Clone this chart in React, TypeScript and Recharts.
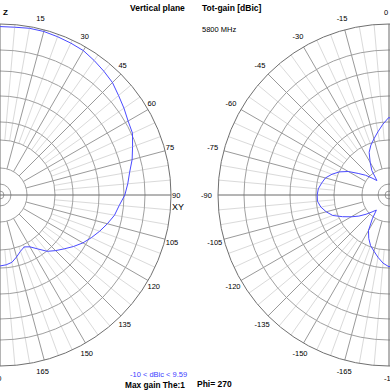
import { RadarChart, Radar, PolarGrid, PolarAngleAxis, PolarRadiusAxis } from 'recharts'

const SIZE = 390
const R = 171
const CY = 195

// theta in degrees, clockwise from zenith (Z), 5 degree steps
const angles = Array.from({ length: 72 }, (_, i) => i * 5)

// relative gain radius (1 = outer ring)
const leftLevel = [
  0.985, 0.985, 0.99, 0.99, 0.985, 0.98, 0.975, 0.96, 0.945, 0.93, 0.905, 0.885,
  0.865, 0.855, 0.825, 0.8, 0.77, 0.75, 0.73, 0.7, 0.68, 0.65, 0.62, 0.59,
  0.56, 0.525, 0.49, 0.46, 0.43, 0.385, 0.35, 0.335, 0.35, 0.375, 0.4, 0.41,
  0.415, 0.41, 0.4, 0.375, 0.35, 0.335, 0.35, 0.385, 0.43, 0.46, 0.49, 0.525,
  0.56, 0.59, 0.62, 0.65, 0.68, 0.7, 0.73, 0.75, 0.77, 0.8, 0.825, 0.855,
  0.865, 0.885, 0.905, 0.93, 0.945, 0.96, 0.975, 0.98, 0.985, 0.99, 0.99, 0.985,
]

const rightLevel = [
  0.455, 0.415, 0.375, 0.34, 0.31, 0.275, 0.22, 0.175, 0.11, 0.14, 0.18, 0.22,
  0.275, 0.32, 0.355, 0.385, 0.4, 0.415, 0.42, 0.42, 0.405, 0.38, 0.35, 0.3,
  0.255, 0.215, 0.175, 0.14, 0.115, 0.17, 0.24, 0.28, 0.315, 0.34, 0.37, 0.4,
  0.42, 0.4, 0.37, 0.34, 0.315, 0.28, 0.24, 0.17, 0.115, 0.14, 0.175, 0.215,
  0.255, 0.3, 0.35, 0.38, 0.405, 0.42, 0.42, 0.415, 0.4, 0.385, 0.355, 0.32,
  0.275, 0.22, 0.18, 0.14, 0.11, 0.175, 0.22, 0.275, 0.31, 0.34, 0.375, 0.415,
]

// grid rings as fraction of outer radius
const ringLevels = [0.023, 0.064, 0.158, 0.322, 0.427, 0.579, 0.725, 0.848]
const minorStart = 0.322
const majorStart = 0.158

const minorSpokes = angles.filter((a) => a % 15 !== 0)
const majorSpokes = angles.filter((a) => a % 15 === 0 && a % 90 !== 0)
const axisSpokes = [0, 90, 180, 270]

const toPolar = (list: number[]) => list.map((a) => 90 - a)
const FONT = '"Liberation Sans", Arial, sans-serif'
const noMargin = { top: 0, right: 0, bottom: 0, left: 0 }

function AngleTick(props: any) {
  const { x, y, payload, side } = props
  const a = Number(payload.value)
  if (a % 15 !== 0) return null
  // only the half of each dial that is inside the window gets a label
  if (side === 'left' && (a === 0 || a > 180)) return null
  if (side === 'right' && a > 0 && a < 180) return null
  const label = side === 'left' ? a : a === 0 ? 0 : a - 360
  return (
    <text
      x={x + (side === 'left' ? -11 : -5)}
      y={y}
      dominantBaseline="central"
      textAnchor="start"
      fontSize={7.5}
      fontFamily={FONT}
      fill="#000"
    >
      {label}
    </text>
  )
}

function Layer({ children }: { children: React.ReactNode }) {
  return <div style={{ position: 'absolute', left: 0, top: 0 }}>{children}</div>
}

function PolarPanel({ cx, level, side }: { cx: number; level: number[]; side: string }) {
  const data = angles.map((a, i) => ({ angle: a, level: level[i] }))
  return (
    <>
      <Layer>
        <RadarChart width={SIZE} height={SIZE} data={data} cx={cx} cy={CY}
          innerRadius={minorStart * R} outerRadius={R} margin={noMargin}>
          <PolarGrid polarAngles={toPolar(minorSpokes)} polarRadius={[]} stroke="#dadada" />
        </RadarChart>
      </Layer>
      <Layer>
        <RadarChart width={SIZE} height={SIZE} data={data} cx={cx} cy={CY}
          innerRadius={majorStart * R} outerRadius={R} margin={noMargin}>
          <PolarGrid polarAngles={toPolar(majorSpokes)} polarRadius={[]} stroke="#9a9a9a" />
        </RadarChart>
      </Layer>
      <Layer>
        <RadarChart width={SIZE} height={SIZE} data={data} cx={cx} cy={CY}
          innerRadius={0} outerRadius={R} margin={noMargin}>
          <PolarGrid gridType="circle" radialLines={false}
            polarAngles={[]} polarRadius={ringLevels.map((f) => f * R)} stroke="#a0a0a0" />
          <PolarGrid polarAngles={toPolar(axisSpokes)} polarRadius={[]} stroke="#6a6a6a" />
          <PolarAngleAxis dataKey="angle" axisLineType="circle" axisLine={{ stroke: '#707070' }}
            tickLine={false} tickSize={12}
            tick={(p: any) => <AngleTick {...p} side={side} />} />
          <PolarRadiusAxis domain={[0, 1]} type="number" tick={false} axisLine={false} />
          <Radar dataKey="level" stroke="#4a4aff" strokeWidth={1} fill="none"
            fillOpacity={0} dot={false} isAnimationActive={false} />
        </RadarChart>
      </Layer>
    </>
  )
}

export default function App() {
  return (
    <div style={{ position: 'absolute', left: 0, top: 0, width: SIZE, height: SIZE,
      overflow: 'hidden', background: '#fff' }}>
      <PolarPanel cx={0} level={leftLevel} side="left" />
      <PolarPanel cx={389} level={rightLevel} side="right" />
      <Layer>
        <svg width={SIZE} height={SIZE} style={{ display: 'block' }}>
          <g fontFamily={FONT} fill="#000">
            <text x={3} y={15} fontSize={8} fontWeight="bold">Z</text>
            <text x={130} y={11} fontSize={8.5} fontWeight="bold">Vertical plane</text>
            <text x={202} y={11} fontSize={8.5} fontWeight="bold">Tot-gain [dBic]</text>
            <text x={202} y={32} fontSize={7.5}>5800 MHz</text>
            <text x={172} y={210} fontSize={9}>XY</text>
            <text x={130} y={376.5} fontSize={7.5} fill="#4040ff">-10 &lt; dBic &lt; 9.59</text>
            <text x={125} y={388} fontSize={8.3} fontWeight="bold">Max gain The:1</text>
            <text x={197} y={387} fontSize={8.5} fontWeight="bold">Phi= 270</text>
          </g>
        </svg>
      </Layer>
    </div>
  )
}
